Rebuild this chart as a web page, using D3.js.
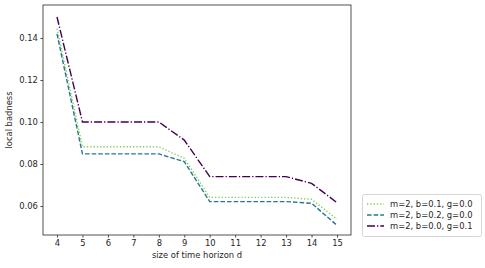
<!DOCTYPE html>
<html><head><meta charset="utf-8">
<script src="https://cdn.jsdelivr.net/npm/d3@7"></script>
<style>body{margin:0;background:#fff}svg{display:block}text{font-family:"DejaVu Sans",sans-serif;fill:#262626}</style>
</head><body><svg id="c" width="485" height="268"></svg>
<script>
const xs = [4,5,6,7,8,9,10,11,12,13,14,15];
const sGreen = [0.1445,0.0882,0.0882,0.0882,0.0882,0.0827,0.0641,0.0641,0.0641,0.0641,0.0632,0.0537];
const sBlue  = [0.1420,0.0848,0.0848,0.0848,0.0848,0.0811,0.0621,0.0621,0.0621,0.0621,0.0613,0.0508];
const sPurple= [0.1500,0.1000,0.1000,0.1000,0.1000,0.0914,0.0740,0.0740,0.0740,0.0740,0.0708,0.0616];
const labels = ["m=2, b=0.1, g=0.0","m=2, b=0.2, g=0.0","m=2, b=0.0, g=0.1"];
const xTicks = [4,5,6,7,8,9,10,11,12,13,14,15];
const yTicks = [0.06,0.08,0.10,0.12,0.14];

const series = [
  {v:sGreen, color:"#7ad151", dash:"1.3,2"},
  {v:sBlue, color:"#2a788e", dash:"4.6,2"},
  {v:sPurple, color:"#440154", dash:"8,2,1.3,2"}
];
const svg = d3.select("#c");
const L=43,R=351,T=5,B=235;
const x = d3.scaleLinear().domain([3.45,15.55]).range([L,R]);
const y = d3.scaleLinear().domain([0.0462,0.1557]).range([B,T]);
const fs = 8.4;

const line = d3.line().x((d,i)=>x(xs[i])).y(d=>y(d));
series.forEach(s=>{
  svg.append("path").attr("d",line(s.v)).attr("fill","none")
    .attr("stroke",s.color).attr("stroke-width",1.4).attr("stroke-dasharray",s.dash);
});

const xa = svg.append("g").attr("transform",`translate(0,${B})`)
  .call(d3.axisBottom(x).tickValues(xTicks).tickSize(2.6).tickPadding(2.5).tickFormat(d3.format("d")));
const ya = svg.append("g").attr("transform",`translate(${L},0)`)
  .call(d3.axisLeft(y).tickValues(yTicks).tickSize(2.6).tickPadding(2.5).tickFormat(d3.format(".2f")));
[xa,ya].forEach(a=>{a.select(".domain").remove();a.selectAll("line").attr("stroke","#262626").attr("stroke-width",0.8);
  a.selectAll("text").style("font-size",fs+"px").style("font-family","DejaVu Sans").attr("fill","#262626");});

svg.append("rect").attr("x",L).attr("y",T).attr("width",R-L).attr("height",B-T)
  .attr("fill","none").attr("stroke","#262626").attr("stroke-width",0.8);

svg.append("text").attr("x",(L+R)/2).attr("y",258).attr("text-anchor","middle").style("font-size",fs+"px").text("size of time horizon d");
svg.append("text").attr("transform",`translate(12,${(T+B)/2}) rotate(-90)`).attr("text-anchor","middle").style("font-size",fs+"px").text("local badness");

const lg = svg.append("g");
lg.append("rect").attr("x",362.5).attr("y",194.5).attr("width",119).attr("height",42).attr("rx",2)
  .attr("fill","#fff").attr("stroke","#cccccc").attr("stroke-width",0.8);
series.forEach((s,i)=>{
  const yy = 204 + i*11;
  lg.append("line").attr("x1",367).attr("x2",384).attr("y1",yy).attr("y2",yy)
    .attr("stroke",s.color).attr("stroke-width",1.4).attr("stroke-dasharray",s.dash);
  lg.append("text").attr("x",390).attr("y",yy+3).style("font-size",fs+"px").text(labels[i]);
});
</script></body></html>
